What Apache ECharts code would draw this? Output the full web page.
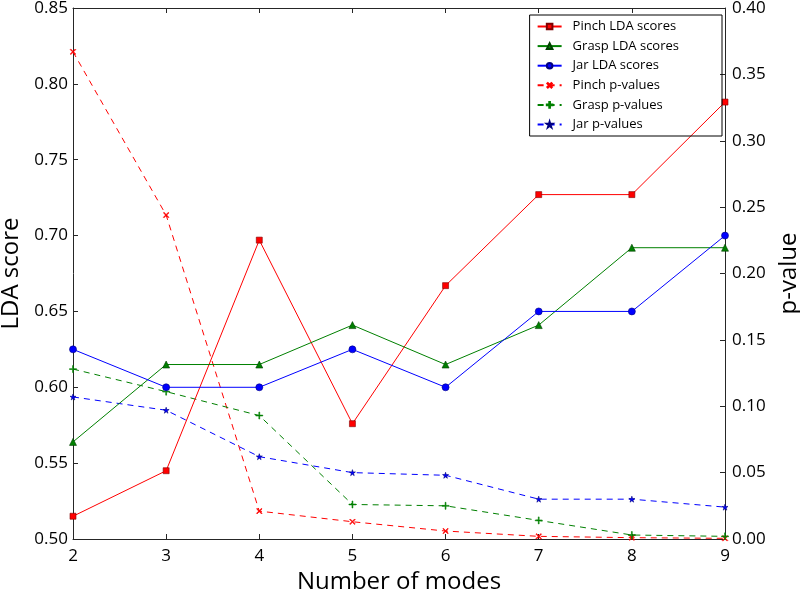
<!DOCTYPE html>
<html><head><meta charset="utf-8">
<script src="https://cdn.jsdelivr.net/npm/echarts@6/dist/echarts.min.js"></script>
<style>html,body{margin:0;padding:0;background:#fff}#c{width:800px;height:596px}</style>
</head><body><div id="c"></div>
<script>
var modes = [2, 3, 4, 5, 6, 7, 8, 9];
var pinchLDA = [0.515, 0.545, 0.697, 0.576, 0.667, 0.727, 0.727, 0.788];
var graspLDA = [0.564, 0.615, 0.615, 0.641, 0.615, 0.641, 0.692, 0.692];
var jarLDA   = [0.625, 0.600, 0.600, 0.625, 0.600, 0.650, 0.650, 0.700];
var pinchP = [0.367, 0.244, 0.021, 0.013, 0.006, 0.002, 0.001, 0.0005];
var graspP = [0.128, 0.111, 0.093, 0.026, 0.025, 0.014, 0.003, 0.002];
var jarP   = [0.107, 0.097, 0.062, 0.050, 0.048, 0.030, 0.030, 0.024];
var seriesNames = ['Pinch LDA scores','Grasp LDA scores','Jar LDA scores','Pinch p-values','Grasp p-values','Jar p-values'];

function pairs(xs, ys){ return xs.map(function(x,i){ return [x, ys[i]]; }); }
var PLUS = 'path://M4.4,0h1.2v4.4h4.4v1.2h-4.4v4.4h-1.2v-4.4h-4.4v-1.2h4.4z';
var STAR = 'path://M50,0 L61,35 L98,35 L68,57 L79,91 L50,70 L21,91 L32,57 L2,35 L39,35 Z';
var FONT = 'Open Sans';
var AXC = '#262626';
function mk(name, data, yIdx, color, edge, symbol, size, dashed, rot){
  return {
    name: name, type: 'line', data: data, xAxisIndex: 0, yAxisIndex: yIdx,
    symbol: symbol, symbolSize: size, symbolRotate: rot || 0,
    showAllSymbol: true,
    lineStyle: {color: color, width: 1, type: dashed ? [6,5] : 'solid'},
    itemStyle: {color: color, borderColor: edge, borderWidth: 0.6},
    emphasis: {disabled: true}, z: dashed ? 2 : 3
  };
}
var chart = echarts.init(document.getElementById('c'));
chart.setOption({
  animation: false,
  backgroundColor: '#fff',
  grid: {left: 73, right: 75, top: 8, bottom: 57, containLabel: false, outerBoundsMode: 'none'},
  legend: {
    orient: 'vertical', right: 78, top: 15,
    data: seriesNames,
    borderColor: '#000', borderWidth: 1, padding: [5, 43, 5, 7],
    itemGap: 6.6, itemWidth: 24, itemHeight: 7,
    textStyle: {fontFamily: FONT, fontSize: 13, lineHeight: 12, color: '#000', padding: [0,0,0,6]}
  },
  xAxis: [{
    type: 'value', min: 2, max: 9, interval: 1, position: 'bottom',
    name: 'Number of modes', nameLocation: 'middle', nameGap: 30,
    nameTextStyle: {fontFamily: FONT, fontSize: 24, color: '#000'},
    axisLine: {show: true, onZero: false, lineStyle: {color: AXC, width: 1}},
    axisTick: {show: true, inside: true, length: 5, lineStyle: {color: AXC}},
    axisLabel: {fontFamily: FONT, fontSize: 17, color: '#000', margin: 9},
    splitLine: {show: false}
  }, {
    type: 'value', min: 2, max: 9, interval: 1, position: 'top',
    axisLine: {show: true, onZero: false, lineStyle: {color: AXC, width: 1}},
    axisTick: {show: true, inside: true, length: 5, lineStyle: {color: AXC}},
    axisLabel: {show: false},
    splitLine: {show: false}
  }],
  yAxis: [{
    type: 'value', min: 0.5, max: 0.85, interval: 0.05,
    name: 'LDA score', nameLocation: 'middle', nameGap: 49, nameRotate: 90,
    nameTextStyle: {fontFamily: FONT, fontSize: 24, color: '#000'},
    axisLine: {show: true, lineStyle: {color: AXC, width: 1}},
    axisTick: {show: true, inside: true, length: 5, lineStyle: {color: AXC}},
    axisLabel: {fontFamily: FONT, fontSize: 17, color: '#000', margin: 5,
      formatter: function(v){ return v.toFixed(2); }},
    splitLine: {show: false}
  }, {
    type: 'value', min: 0, max: 0.4, interval: 0.05, position: 'right',
    name: 'p-value', nameLocation: 'middle', nameGap: 52, nameRotate: 90,
    nameTextStyle: {fontFamily: FONT, fontSize: 24, color: '#000'},
    axisLine: {show: true, lineStyle: {color: AXC, width: 1}},
    axisTick: {show: true, inside: true, length: 5, lineStyle: {color: AXC}},
    axisLabel: {fontFamily: FONT, fontSize: 17, color: '#000', margin: 7,
      formatter: function(v){ return v.toFixed(2); }},
    splitLine: {show: false}
  }],
  series: [
    mk(seriesNames[0], pairs(modes, pinchLDA), 0, '#ff0000', '#800000', 'rect', 6, false),
    mk(seriesNames[1], pairs(modes, graspLDA), 0, '#008000', '#004000', 'triangle', 7, false),
    mk(seriesNames[2], pairs(modes, jarLDA), 0, '#0000ff', '#000080', 'circle', 7, false),
    mk(seriesNames[3], pairs(modes, pinchP), 1, '#ff0000', '#ff0000', PLUS, 7, true, 45),
    mk(seriesNames[4], pairs(modes, graspP), 1, '#008000', '#008000', PLUS, 7, true),
    mk(seriesNames[5], pairs(modes, jarP), 1, '#0000ff', '#000080', STAR, 6, true)
  ]
});
</script></body></html>
